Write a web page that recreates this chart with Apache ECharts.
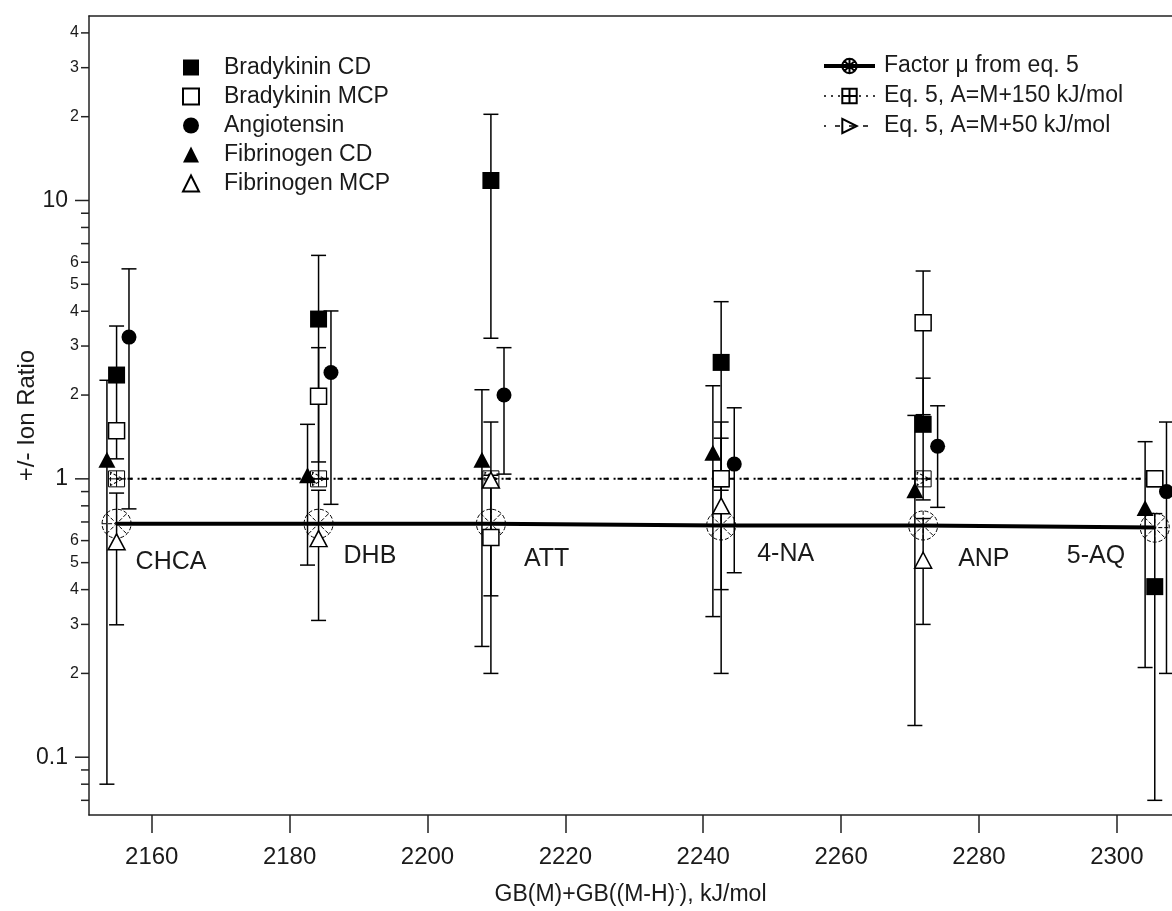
<!DOCTYPE html>
<html>
<head>
<meta charset="utf-8">
<title>+/- Ion Ratio</title>
<script src="https://cdn.jsdelivr.net/npm/echarts@6/dist/echarts.min.js"></script>
<style>
html, body { margin: 0; padding: 0; background: #fff; }
#chart { width: 1172px; height: 911px; }
</style>
</head>
<body>
<div id="chart"></div>
<script>
// matrices and GB(M)+GB((M-H)-), kJ/mol (points of each matrix are spread a little)
var matrices = ['CHCA', 'DHB', 'ATT', '4-NA', 'ANP', '5-AQ'];
var matrixGB = [2154.9, 2184.2, 2209.2, 2242.6, 2271.9, 2305.5];
var fibCdGB  = [2153.5, 2182.6, 2207.9, 2241.4, 2270.7, 2304.1];
var angioGB  = [2156.7, 2186.0, 2211.1, 2244.5, 2274.0, 2307.2];

// measured ratios and their +/- errors
var bradyCd     = [2.36, 3.75, 11.8, 2.62, 1.57, 0.41];
var bradyCdErr  = [1.18, 2.6, 8.6, 1.71, 0.73, 0.34];
var bradyMcp    = [1.49, 1.98, 0.615, 1.0, 3.64, 1.0];
var bradyMcpErr = [0, 0.98, 0.415, 0.6, 1.94, 0];
var angio       = [3.23, 2.41, 2.0, 1.13, 1.31, 0.9];
var angioErr    = [2.45, 1.6, 0.96, 0.67, 0.52, 0.7];
var fibCd       = [1.17, 1.03, 1.17, 1.24, 0.91, 0.785];
var fibCdErr    = [1.09, 0.54, 0.92, 0.92, 0.78, 0.575];
var fibMcp      = [0.594, 0.61, 0.99, 0.8, 0.51, null];
var fibMcpErr   = [0.295, 0.3, 0.61, 0.6, 0.21, null];

// model curves
var factorMu = [0.69, 0.69, 0.69, 0.68, 0.68, 0.668];
var eqA150   = [1, 1, 1, 1, 1, 1];
var eqA50    = [1, 1, 1, 1, 1, 1];

// axis ticks
var xTicks = [2160, 2180, 2200, 2220, 2240, 2260, 2280, 2300];
var yMajorTicks  = [0.1, 1, 10];
var yMajorLabels = ['0.1', '1', '10'];
var yMinorTicks  = [0.07, 0.08, 0.09, 0.2, 0.3, 0.4, 0.5, 0.6, 0.7, 0.8, 0.9, 2, 3, 4, 5, 6, 7, 8, 9, 20, 30, 40];
var yMinorLabels = ['', '', '', '2', '3', '4', '5', '6', '', '', '', '2', '3', '4', '5', '6', '', '', '', '2', '3', '4'];

var xMin = 2150.9, xMax = 2308, yMin = 0.062, yMax = 46;

// pixel shift of each matrix name from its Factor mu point
var matrixLabelShift = [[19, 38], [25, 32], [33, 35], [36, 29], [35, 34], [-88, 28]];

var FONT = '"Liberation Sans", Arial, sans-serif';
var INK = '#1a1a1a';
var AXIS = '#222';

function points(xs, ys) {
		var out = [];
		for(var i = 0; i < ys.length; i++) {
				if(ys[i] != null) out.push([xs[i], ys[i]]);
		}
		return out;
}

function bars(xs, ys, es) {
		var out = [];
		for(var i = 0; i < ys.length; i++) {
				if(ys[i] != null && es[i]) out.push([xs[i], ys[i] - es[i], ys[i] + es[i]]);
		}
		return out;
}

// error bar: vertical line with two caps
function renderErrorBar(params, api) {
		var top = api.coord([api.value(0), api.value(2)]);
		var bot = api.coord([api.value(0), api.value(1)]);
		var w = 7.5;
		var st = { stroke: '#000', lineWidth: 1.5 };
		return {
				type: 'group',
				children: [
						{ type: 'line', shape: { x1: top[0], y1: top[1], x2: bot[0], y2: bot[1] }, style: st },
						{ type: 'line', shape: { x1: top[0] - w, y1: top[1], x2: top[0] + w, y2: top[1] }, style: st },
						{ type: 'line', shape: { x1: bot[0] - w, y1: bot[1], x2: bot[0] + w, y2: bot[1] }, style: st }
				]
		};
}

// log ticks on the left axis, drawn at the axis through the y scale
function tickRenderer(labels, len, fontSize, gap) {
		return function(params, api) {
				var p = api.coord([xMin, api.value(1)]);
				var children = [{
						type: 'line',
						shape: { x1: p[0] - len, y1: p[1], x2: p[0], y2: p[1] },
						style: { stroke: AXIS, lineWidth: 1.5 }
				}];
				var txt = labels[params.dataIndex];
				if(txt) {
						children.push({
								type: 'text', x: p[0] - len - gap, y: p[1],
								style: { text: txt, align: 'right', verticalAlign: 'middle', fontSize: fontSize, fontFamily: FONT, fill: INK }
						});
				}
				return { type: 'group', children: children };
		};
}

function renderMatrixLabel(params, api) {
		var p = api.coord([api.value(0), api.value(1)]);
		var s = matrixLabelShift[params.dataIndex];
		return {
				type: 'text', x: p[0] + s[0], y: p[1] + s[1],
				style: { text: matrices[params.dataIndex], align: 'left', verticalAlign: 'middle', fontSize: 25, fontFamily: FONT, fill: INK }
		};
}

function errSeries(name, data) {
		return {
				name: name, type: 'custom', renderItem: renderErrorBar, data: data,
				encode: { x: 0, y: [1, 2] }, clip: false, silent: true, z: 1
		};
}

function tickData(vals) {
		return vals.map(function(v) { return [xMin, v]; });
}

var muSymbol = 'path://M-1,0A1,1,0,1,1,1,0A1,1,0,1,1,-1,0Z M0,-1L0,1 M-1,0L1,0 M-0.7,-0.7L0.7,0.7 M-0.7,0.7L0.7,-0.7';
var boxSymbol = 'path://M-1,-1L1,-1L1,1L-1,1Z M0,-1L0,1 M-1,0L1,0';

var chart = echarts.init(document.getElementById('chart'));

var option = {
		animation: false,
		textStyle: { fontFamily: FONT, color: INK },
		grid: { left: 89, right: 0, top: 16, bottom: 93 },
		legend: [
				{
						data: ['Bradykinin CD', 'Bradykinin MCP', 'Angiotensin', 'Fibrinogen CD', 'Fibrinogen MCP'],
						orient: 'vertical', left: 177, top: 48, itemWidth: 16, itemHeight: 16, itemGap: 0,
						selectedMode: false,
						textStyle: { fontSize: 23, lineHeight: 29, padding: [0, 0, 0, 20], color: INK, fontFamily: FONT }
				},
				{
						data: [
								{ name: 'Factor μ from eq. 5', lineStyle: { width: 4 } },
								{ name: 'Eq. 5, A=M+150 kJ/mol', lineStyle: { width: 1.5 } },
								{ name: 'Eq. 5, A=M+50 kJ/mol', lineStyle: { width: 1.5 } }
						],
						orient: 'vertical', left: 817, top: 46, itemWidth: 51, itemHeight: 18, itemGap: 0,
						selectedMode: false,
						textStyle: { fontSize: 23, lineHeight: 30, padding: [0, 0, 0, 4], color: INK, fontFamily: FONT }
				}
		],
		xAxis: [
				{
						type: 'value', min: xMin, max: xMax,
						name: 'GB(M)+GB((M-H){sup|-}), kJ/mol', nameLocation: 'middle', nameGap: 68,
						nameTextStyle: { fontSize: 23, color: INK, fontFamily: FONT, rich: { sup: { fontSize: 13, verticalAlign: 'top', color: INK } } },
						axisLine: { onZero: false, lineStyle: { color: AXIS, width: 1.5 } },
						axisTick: { customValues: xTicks, length: 18, lineStyle: { color: AXIS, width: 1.5 } },
						axisLabel: {
								customValues: xTicks, fontSize: 24, margin: 30, color: INK, fontFamily: FONT,
								formatter: function(v) { return String(v); }
						},
						splitLine: { show: false }
				},
				{
						type: 'value', position: 'top', min: xMin, max: xMax,
						axisLine: { show: true, onZero: false, lineStyle: { color: AXIS, width: 1.5 } },
						axisTick: { show: false }, axisLabel: { show: false }, splitLine: { show: false }
				}
		],
		yAxis: {
				type: 'log', logBase: 10, min: yMin, max: yMax,
				name: '+/- Ion Ratio', nameLocation: 'middle', nameGap: 50,
				nameTextStyle: { fontSize: 24, color: INK, fontFamily: FONT },
				axisLine: { show: true, onZero: false, lineStyle: { color: AXIS, width: 1.5 } },
				axisTick: { show: false }, axisLabel: { show: false },
				splitLine: { show: false }, minorTick: { show: false }
		},
		series: [
				{ type: 'custom', renderItem: tickRenderer(yMajorLabels, 14, 23, 7), data: tickData(yMajorTicks), clip: false, silent: true },
				{ type: 'custom', renderItem: tickRenderer(yMinorLabels, 8, 16, 2), data: tickData(yMinorTicks), clip: false, silent: true },

				errSeries('err-fibCd', bars(fibCdGB, fibCd, fibCdErr)),
				errSeries('err-bradyCd', bars(matrixGB, bradyCd, bradyCdErr)),
				errSeries('err-bradyMcp', bars(matrixGB, bradyMcp, bradyMcpErr)),
				errSeries('err-fibMcp', bars(matrixGB, fibMcp, fibMcpErr)),
				errSeries('err-angio', bars(angioGB, angio, angioErr)),

				{
						name: 'Factor μ from eq. 5', type: 'line', data: points(matrixGB, factorMu),
						symbol: muSymbol, symbolSize: 29, z: 3,
						lineStyle: { color: '#000', width: 4 },
						itemStyle: { color: 'rgba(255,255,255,0)', borderColor: '#000', borderWidth: 1, borderType: 'dashed', opacity: 1 }
				},
				{
						name: 'Eq. 5, A=M+150 kJ/mol', type: 'line', data: points(matrixGB, eqA150),
						symbol: boxSymbol, symbolSize: 16, z: 3,
						lineStyle: { color: '#000', width: 2, type: [2, 5] },
						itemStyle: { color: 'rgba(255,255,255,0)', borderColor: '#000', borderWidth: 1, opacity: 1 }
				},
				{
						name: 'Eq. 5, A=M+50 kJ/mol', type: 'line', data: points(matrixGB, eqA50),
						symbol: 'triangle', symbolRotate: -90, symbolSize: [13, 12], z: 3,
						lineStyle: { color: '#000', width: 2, type: [5, 9], dashOffset: 3 },
						itemStyle: { color: 'rgba(255,255,255,0)', borderColor: '#000', borderWidth: 1, borderType: 'dashed', opacity: 1 }
				},

				{
						name: 'Fibrinogen MCP', type: 'scatter', data: points(matrixGB, fibMcp),
						symbol: 'triangle', symbolSize: [17, 16], z: 4,
						itemStyle: { color: '#fff', borderColor: '#000', borderWidth: 1.5, opacity: 1 }
				},
				{
						name: 'Bradykinin MCP', type: 'scatter', data: points(matrixGB, bradyMcp),
						symbol: 'rect', symbolSize: 16, z: 4,
						itemStyle: { color: '#fff', borderColor: '#000', borderWidth: 1.5, opacity: 1 }
				},
				{
						name: 'Bradykinin CD', type: 'scatter', data: points(matrixGB, bradyCd),
						symbol: 'rect', symbolSize: 17, z: 4, itemStyle: { color: '#000', opacity: 1 }
				},
				{
						name: 'Fibrinogen CD', type: 'scatter', data: points(fibCdGB, fibCd),
						symbol: 'triangle', symbolSize: [17, 16], z: 4, itemStyle: { color: '#000', opacity: 1 }
				},
				{
						name: 'Angiotensin', type: 'scatter', data: points(angioGB, angio),
						symbol: 'circle', symbolSize: 15, z: 4, itemStyle: { color: '#000', opacity: 1 }
				},

				{ type: 'custom', renderItem: renderMatrixLabel, data: points(matrixGB, factorMu), clip: false, silent: true, z: 5 }
		]
};

chart.setOption(option);
</script>
</body>
</html>
